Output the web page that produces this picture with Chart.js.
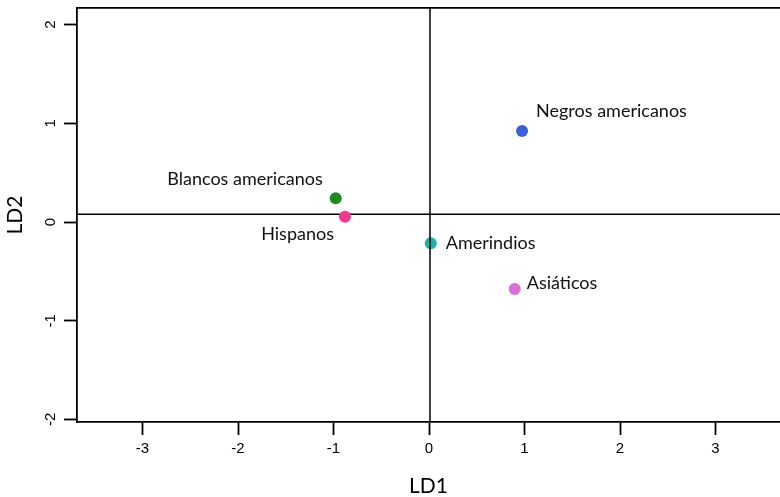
<!DOCTYPE html>
<html>
<head>
<meta charset="utf-8">
<script src="https://cdn.jsdelivr.net/npm/chart.js@4.4.0/dist/chart.umd.min.js"></script>
<style>
  html, body { margin: 0; padding: 0; background: #fff; }
  #wrap { width: 780px; height: 497px; }
</style>
</head>
<body>
<div id="wrap"><canvas id="myChart"></canvas></div>
<script>
// group means on the two discriminant axes
var groups = ['Negros americanos', 'Blancos americanos', 'Hispanos', 'Amerindios', 'Asiáticos'];
var ld1 = [0.974, -0.977, -0.880, 0.018, 0.897];
var ld2 = [0.922, 0.240, 0.054, -0.216, -0.679];
var colors = ['#3f5fd8', '#1f8a22', '#ee3a8e', '#20b2aa', '#da70d6'];

var xTicks = [-3, -2, -1, 0, 1, 2, 3];
var yTicks = [-2, -1, 0, 1, 2];
var xRange = [-3.686, 3.675];
var yRange = [-2.026, 2.168];

// reference lines
var hLine = 0.078;
var vLine = 0.01;

// where each name sits relative to its point: dx, dy, align
var labelPlace = [
  [14, -20, 'left'],
  [-13, -19, 'right'],
  [-11, 18, 'right'],
  [15, 0, 'left'],
  [12, -6, 'left']
];

Chart.defaults.font.family = 'Liberation Sans';
Chart.defaults.color = '#000';

var pts = [];
for (var i = 0; i < groups.length; i++) {
  pts.push({x: ld1[i], y: ld2[i]});
}

var pointLabels = {
  id: 'pointLabels',
  afterDatasetsDraw: function(chart) {
    var ctx = chart.ctx;
    var xs = chart.scales.x;
    var ys = chart.scales.y;
    ctx.save();
    ctx.font = '18px Lato';
    ctx.fillStyle = '#111';
    ctx.textBaseline = 'middle';
    for (var i = 0; i < groups.length; i++) {
      var p = labelPlace[i];
      ctx.textAlign = p[2];
      ctx.fillText(groups[i], xs.getPixelForValue(ld1[i]) + p[0], ys.getPixelForValue(ld2[i]) + p[1]);
    }
    ctx.restore();
  }
};

function tickGrid() {
  return {
    drawOnChartArea: false,
    drawTicks: true,
    tickLength: 13,
    tickWidth: 1.8,
    tickColor: '#000'
  };
}

// no extra room for overhanging tick labels
function noPad(s) {
  s.paddingTop = 0;
  s.paddingBottom = 0;
  s.paddingLeft = 0;
  s.paddingRight = 0;
}

var config = {
  type: 'scatter',
  data: {
    datasets: [{
      label: 'h',
      data: [{x: xRange[0], y: hLine}, {x: xRange[1], y: hLine}],
      showLine: true,
      pointRadius: 0,
      borderColor: '#000',
      borderWidth: 1.5,
      order: 2
    }, {
      label: 'grupos',
      data: pts,
      backgroundColor: colors,
      borderWidth: 0,
      pointRadius: 6,
      order: 1
    }, {
      label: 'v',
      data: [{x: vLine, y: yRange[0]}, {x: vLine, y: yRange[1]}],
      showLine: true,
      pointRadius: 0,
      borderColor: '#000',
      borderWidth: 1.5,
      order: 0
    }]
  },
  options: {
    responsive: true,
    maintainAspectRatio: false,
    animation: false,
    layout: { autoPadding: false, padding: { top: 8, left: 0, right: 0, bottom: 0 } },
    plugins: {
      legend: { display: false },
      tooltip: { enabled: false }
    },
    scales: {
      x: {
        type: 'linear',
        position: 'bottom',
        min: xRange[0],
        max: xRange[1],
        afterBuildTicks: function(s) { s.ticks = xTicks.map(function(v) { return {value: v}; }); },
        afterFit: function(s) { s.height = 75; noPad(s); },
        grid: tickGrid(),
        border: { display: true, color: '#000', width: 1.8 },
        ticks: { color: '#000', font: { size: 15 }, padding: 5, maxRotation: 0, autoSkip: false },
        title: {
          display: true,
          text: 'LD1',
          color: '#000',
          font: { family: 'Lato', size: 21, lineHeight: 1 },
          padding: { top: 0, bottom: 0 }
        }
      },
      x2: {
        type: 'linear',
        position: 'top',
        min: xRange[0],
        max: xRange[1],
        afterFit: function(s) { s.height = 0; noPad(s); },
        grid: { drawOnChartArea: false, drawTicks: false },
        border: { display: true, color: '#000', width: 1.8 },
        ticks: { display: false }
      },
      y: {
        type: 'linear',
        position: 'left',
        min: yRange[0],
        max: yRange[1],
        afterBuildTicks: function(s) { s.ticks = yTicks.map(function(v) { return {value: v}; }); },
        afterFit: function(s) { s.width = 77; noPad(s); },
        grid: tickGrid(),
        border: { display: true, color: '#000', width: 1.8 },
        ticks: { color: '#000', font: { size: 15 }, padding: 6, minRotation: 90, maxRotation: 90, crossAlign: 'center', autoSkip: false },
        title: {
          display: true,
          text: 'LD2',
          color: '#000',
          font: { family: 'Lato', size: 21, lineHeight: 1 },
          padding: { top: 5, bottom: 0 }
        }
      }
    }
  },
  plugins: [pointLabels]
};

var chart = document.getElementById('myChart');
var myChart = new Chart(chart, config);
</script>
</body>
</html>
